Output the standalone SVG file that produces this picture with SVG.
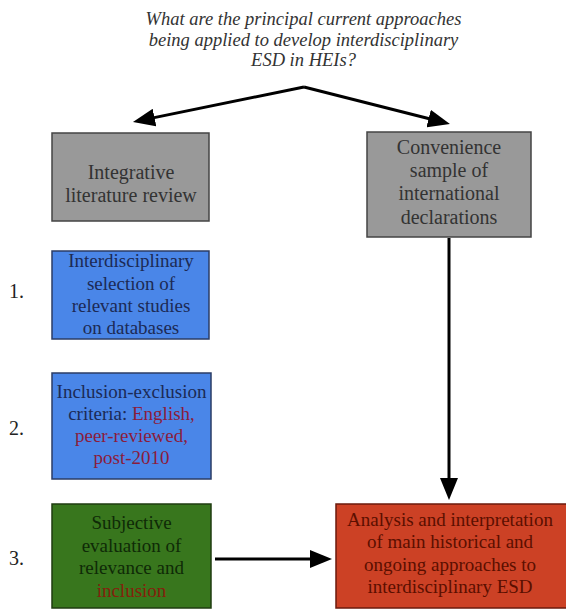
<svg xmlns="http://www.w3.org/2000/svg" width="566" height="609" viewBox="0 0 566 609">
<style>
text{font-family:"Liberation Serif","Times New Roman",serif;text-anchor:middle}
.title{font-size:18.5px;font-style:italic;fill:#333}
.g{fill:#999;stroke:#444;stroke-width:1.5}
.gt{font-size:20px;fill:#333}
.b{fill:#4a86e8;stroke:#2b3d66;stroke-width:1.5}
.bt{font-size:19px;fill:#1c2a55}
.br{fill:#8a1c3c}
.gr{fill:#38761d;stroke:#1f3d10;stroke-width:1.5}
.grt{font-size:19px;fill:#0f2a07}
.grr{fill:#85200c}
.r{fill:#cc4125;stroke:#6b1a0c;stroke-width:1.5}
.rt{font-size:19px;fill:#5b0f00}
.num{font-size:20px;fill:#222;text-anchor:start}
.conn{fill:none;stroke:#000;stroke-width:3}
</style>
<defs>
<marker id="ah" markerUnits="userSpaceOnUse" markerWidth="22" markerHeight="18" refX="14" refY="9" orient="auto" viewBox="0 0 22 18">
<path d="M0,0 L22,9 L0,18 z" fill="#000"/>
</marker>
</defs>
<g id="question">
<text class="title" x="303.5" y="25">What are the principal current approaches</text>
<text class="title" x="303.5" y="46">being applied to develop interdisciplinary</text>
<text class="title" x="303.5" y="66">ESD in HEIs?</text>
</g>
<g id="connectors">
<path class="conn" d="M304,87 L140.8,120.4" marker-end="url(#ah)"/>
<path class="conn" d="M304,87 L442.2,122" marker-end="url(#ah)"/>
<path class="conn" d="M449,238 L449,492" marker-end="url(#ah)"/>
<path class="conn" d="M215,559 L324,559" marker-end="url(#ah)"/>
</g>
<g id="integrative">
<rect class="g" x="52" y="133" width="157" height="88"/>
<text class="gt" x="131" y="179">Integrative</text>
<text class="gt" x="131" y="202">literature review</text>
</g>
<g id="convenience">
<rect class="g" x="367" y="132" width="164" height="105"/>
<text class="gt" x="449" y="154">Convenience</text>
<text class="gt" x="449" y="177">sample of</text>
<text class="gt" x="449" y="200">international</text>
<text class="gt" x="449" y="224">declarations</text>
</g>
<g id="step1">
<text class="num" x="9" y="298">1.</text>
<rect class="b" x="52" y="251" width="157" height="88"/>
<text class="bt" x="131" y="267">Interdisciplinary</text>
<text class="bt" x="131" y="290">selection of</text>
<text class="bt" x="131" y="312">relevant studies</text>
<text class="bt" x="131" y="334">on databases</text>
</g>
<g id="step2">
<text class="num" x="9" y="435">2.</text>
<rect class="b" x="52" y="373" width="159" height="106"/>
<text class="bt" x="131.5" y="398">Inclusion-exclusion</text>
<text class="bt" x="131.5" y="420">criteria: <tspan class="br">English,</tspan></text>
<text class="bt br" x="131.5" y="442">peer-reviewed,</text>
<text class="bt br" x="131.5" y="464">post-2010</text>
</g>
<g id="step3">
<text class="num" x="9" y="565">3.</text>
<rect class="gr" x="52" y="504" width="159" height="104"/>
<text class="grt" x="131.5" y="529">Subjective</text>
<text class="grt" x="131.5" y="552">evaluation of</text>
<text class="grt" x="131.5" y="574">relevance and</text>
<text class="grt grr" x="131.5" y="597">inclusion</text>
</g>
<g id="analysis">
<rect class="r" x="336" y="504" width="232" height="104"/>
<text class="rt" x="450" y="526">Analysis and interpretation</text>
<text class="rt" x="450" y="548">of main historical and</text>
<text class="rt" x="450" y="571">ongoing approaches to</text>
<text class="rt" x="450" y="593">interdisciplinary ESD</text>
</g>
</svg>
